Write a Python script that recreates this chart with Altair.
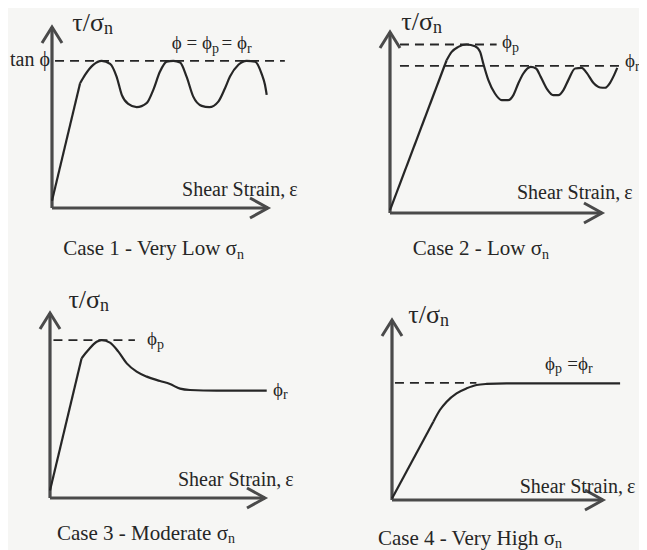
import altair as alt
import pandas as pd

SERIF = "Liberation Serif"
INK = "#262626"
AXIS_C = "#4a4a4a"
BG = "#f6f6f4"

X_END = 10.0   # length of strain axis (arbitrary units)
Y_END = 1.23   # length of tau/sigma_n axis (tan phi = 1)

# ---------------- data ----------------
# Case 1 - very low normal stress (first segment is straight, rest smooth)
c1_strain = [0, 1.30, 1.53, 1.91, 2.30, 2.69, 2.99, 3.23, 3.53, 3.92, 4.38, 4.69, 5.0, 5.31,
             5.62, 5.93, 6.23, 6.54, 6.93, 7.28, 7.70, 8.01, 8.24, 8.63, 9.01, 9.40, 9.71, 9.86, 9.94]
c1_ratio = [0.05, 0.848, 0.905, 0.973, 1.0, 0.98, 0.893, 0.769, 0.707, 0.685, 0.712, 0.803, 0.927, 0.995,
            1.0, 0.989, 0.893, 0.757, 0.694, 0.685, 0.723, 0.814, 0.893, 0.973, 1.0, 0.995, 0.91, 0.837, 0.769]
c1_levels = [1.0]
c1_level_from = [0.14]
c1_level_to = [10.78]

# Case 2 - low normal stress
c2_strain = [0, 2.67, 2.91, 3.22, 3.62, 4.01, 4.25, 4.40, 4.64, 4.95, 5.27, 5.58, 5.82, 6.05, 6.29,
             6.64, 6.89, 7.11, 7.39, 7.70, 7.94, 8.18, 8.41, 8.73, 9.04, 9.28, 9.59, 9.91, 10.14,
             10.38, 10.57, 10.72]
c2_ratio = [0.02, 1.038, 1.095, 1.129, 1.145, 1.133, 1.095, 1.016, 0.903, 0.812, 0.767, 0.767, 0.801,
            0.88, 0.948, 0.993, 0.982, 0.925, 0.846, 0.801, 0.801, 0.835, 0.903, 0.982, 0.986, 0.952,
            0.885, 0.853, 0.851, 0.885, 0.937, 0.986]
c2_levels = [1.145, 1.0]
c2_level_from = [0.47, 0.47]
c2_level_to = [5.03, 10.85]

# Case 3 - moderate normal stress
c3_strain = [0, 1.47, 1.78, 2.17, 2.40, 2.79, 3.18, 3.57, 4.03, 4.50, 5.12, 5.58, 6.05, 6.51, 7.75, 10.08]
c3_ratio = [0.05, 0.929, 0.984, 1.039, 1.05, 1.033, 0.973, 0.895, 0.84, 0.807, 0.778, 0.758, 0.727,
            0.718, 0.714, 0.714]
c3_levels = [1.05]
c3_level_from = [0.16]
c3_level_to = [3.95]

# Case 4 - very high normal stress
c4_strain = [0, 1.96, 2.27, 2.59, 3.06, 3.54, 4.01, 4.49, 5.43, 7.65, 10.81]
c4_ratio = [0.01, 0.535, 0.615, 0.672, 0.729, 0.763, 0.786, 0.793, 0.797, 0.797, 0.797]
c4_levels = [0.8]
c4_level_from = [0.14]
c4_level_to = [4.0]

# labels: text, strain, ratio, font size, align
c1_labels = [("τ/σ", 2.41, 1.203, 26, "right"), ("n", 2.41, 1.182, 18, "left"),
             ("tan ϕ", -0.093, 0.965, 20, "right"),
             ("ϕ = ϕ", 7.41, 1.08, 19, "right"), ("p", 7.41, 1.053, 14, "left"),
             ("= ϕ", 9.03, 1.08, 19, "right"), ("r", 9.03, 1.053, 14, "left"),
             ("Shear Strain,\u2009ε", 6.02, 0.082, 20, "left"),
             ("Case 1 - Very Low σ", 8.56, -0.319, 21, "right"), ("n", 8.56, -0.347, 14, "left")]
c2_labels = [("τ/σ", 2.03, 1.244, 26, "right"), ("n", 2.03, 1.223, 18, "left"),
             ("ϕ", 5.75, 1.121, 19, "right"), ("p", 5.75, 1.094, 14, "left"),
             ("Shear Strain,\u2009ε", 5.99, 0.095, 20, "left"),
             ("Case 2 - Low σ", 7.17, -0.285, 21, "right"), ("n", 7.17, -0.313, 14, "left")]
c2_edge_labels = [("ϕ", 11.56, 0.992, 19, "right"), ("r", 11.56, 0.965, 14, "left")]
c3_labels = [("τ/σ", 2.33, 1.263, 26, "right"), ("n", 2.33, 1.243, 18, "left"),
             ("ϕ", 4.98, 1.017, 19, "right"), ("p", 4.98, 0.991, 14, "left"),
             ("ϕ", 10.84, 0.678, 19, "right"), ("r", 10.84, 0.658, 14, "left"),
             ("Shear Strain,\u2009ε", 5.95, 0.08, 20, "left"),
             ("Case 3 - Moderate σ", 8.28, -0.279, 21, "right"), ("n", 8.28, -0.299, 14, "left")]
c4_labels = [("τ/σ", 2.27, 1.21, 26, "right"), ("n", 2.27, 1.189, 18, "left"),
             ("ϕ", 7.73, 0.888, 19, "right"), ("p", 7.73, 0.868, 14, "left"),
             ("=ϕ", 9.29, 0.888, 19, "right"), ("r", 9.29, 0.868, 14, "left"),
             ("Shear Strain,\u2009ε", 6.05, 0.048, 20, "left"),
             ("Case 4 - Very High σ", 7.73, -0.3075, 21, "right"), ("n", 7.73, -0.328, 14, "left")]

# ---------------- layout (page pixels) ----------------
GEOM = [
    dict(ox=52, oy=208, xt=268, yt=27, left=8, top=8, w=312, h=262),
    dict(ox=390, oy=213, xt=602, yt=32, left=320, top=8, w=319, h=262),
    dict(ox=50, oy=498, xt=265, yt=313, left=8, top=270, w=312, h=262),
    dict(ox=392, oy=500, xt=603, yt=320, left=320, top=270, w=319, h=262),
]

UP = "M-1,1.6L0,0L1,1.6"
RIGHT = "M-1.8,-1L0,0L-1.8,1"


def text_layer(df, al, xs, ys, clip):
    return alt.Chart(df).mark_text(
        align=al, baseline="alphabetic", font=SERIF, color=INK, clip=clip).encode(
        x=alt.X("x:Q", scale=xs, axis=None), y=alt.Y("y:Q", scale=ys, axis=None),
        text="text:N", size=alt.Size("size:Q", scale=None))


def panel(g, strain, ratio, levels, lfrom, lto, labels, edge_labels=None):
    sx = (g["xt"] - g["ox"]) / X_END
    sy = (g["oy"] - g["yt"]) / Y_END
    xdom = [(g["left"] - g["ox"]) / sx, (g["left"] + g["w"] - g["ox"]) / sx]
    ydom = [(g["oy"] - (g["top"] + g["h"])) / sy, (g["oy"] - g["top"]) / sy]
    xs = alt.Scale(domain=xdom, nice=False, zero=False)
    ys = alt.Scale(domain=ydom, nice=False, zero=False)

    axes_df = pd.DataFrame({"x": [0, 0], "y": [0, 0], "x2": [X_END, 0], "y2": [0, Y_END]})
    tips_df = pd.DataFrame({"x": [0, X_END], "y": [Y_END, 0], "dir": ["up", "right"]})
    curve_df = pd.DataFrame({"strain": strain, "ratio": ratio})
    lvl_df = pd.DataFrame({"x": lfrom, "x2": lto, "y": levels})
    lab_df = pd.DataFrame(labels, columns=["text", "x", "y", "size", "align"])

    axes = alt.Chart(axes_df).mark_rule(color=AXIS_C, strokeWidth=3.2).encode(
        x=alt.X("x:Q", scale=xs, axis=None), y=alt.Y("y:Q", scale=ys, axis=None),
        x2="x2:Q", y2="y2:Q")
    tips = alt.Chart(tips_df).mark_point(color=AXIS_C, strokeWidth=3, filled=False,
                                         size=400, strokeJoin="miter", opacity=1).encode(
        x=alt.X("x:Q", scale=xs, axis=None), y=alt.Y("y:Q", scale=ys, axis=None),
        shape=alt.Shape("dir:N", scale=alt.Scale(domain=["up", "right"], range=[UP, RIGHT]),
                        legend=None))
    dashed = alt.Chart(lvl_df).mark_rule(color=INK, strokeWidth=1.8, strokeDash=[9, 6]).encode(
        x=alt.X("x:Q", scale=xs, axis=None), x2="x2:Q", y=alt.Y("y:Q", scale=ys, axis=None))
    # straight elastic part (first two points) and smooth post-yield part
    straight = alt.Chart(curve_df.iloc[:2]).mark_line(color=INK, strokeWidth=2.2).encode(
        x=alt.X("strain:Q", scale=xs, axis=None), y=alt.Y("ratio:Q", scale=ys, axis=None),
        order="strain:Q")
    smooth = alt.Chart(curve_df.iloc[1:]).mark_line(
        color=INK, strokeWidth=2.2, interpolate="monotone").encode(
        x=alt.X("strain:Q", scale=xs, axis=None), y=alt.Y("ratio:Q", scale=ys, axis=None),
        order="strain:Q")
    layers = [axes, tips, dashed, straight, smooth]
    for al in ["left", "right"]:
        layers.append(text_layer(lab_df[lab_df["align"] == al], al, xs, ys, False))
    if edge_labels:
        edf = pd.DataFrame(edge_labels, columns=["text", "x", "y", "size", "align"])
        for al in ["left", "right"]:
            layers.append(text_layer(edf[edf["align"] == al], al, xs, ys, True))
    return alt.layer(*layers).properties(width=g["w"], height=g["h"])


p1 = panel(GEOM[0], c1_strain, c1_ratio, c1_levels, c1_level_from, c1_level_to, c1_labels)
p2 = panel(GEOM[1], c2_strain, c2_ratio, c2_levels, c2_level_from, c2_level_to, c2_labels,
           c2_edge_labels)
p3 = panel(GEOM[2], c3_strain, c3_ratio, c3_levels, c3_level_from, c3_level_to, c3_labels)
p4 = panel(GEOM[3], c4_strain, c4_ratio, c4_levels, c4_level_from, c4_level_to, c4_labels)

chart = alt.concat(p1, p2, p3, p4, columns=2, spacing=0, bounds="flush").properties(
    padding=0, background=BG).configure_view(stroke=None)

chart.save("out.html", embed_options={"renderer": "svg", "actions": False})
